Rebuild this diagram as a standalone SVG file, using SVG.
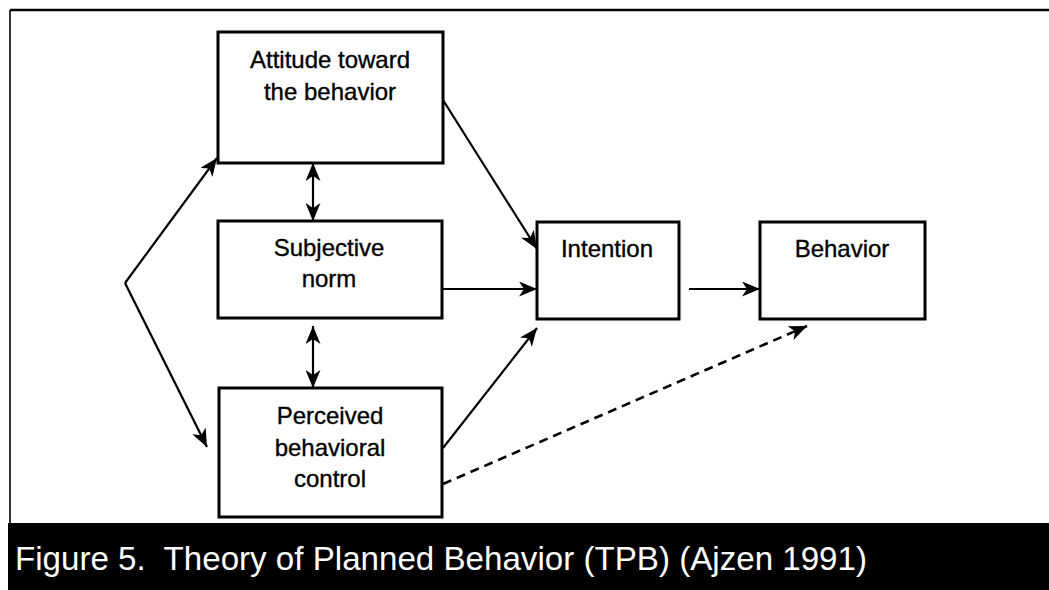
<svg xmlns="http://www.w3.org/2000/svg" width="1049" height="590" viewBox="0 0 1049 590">
  <style>
    .box { fill: #fff; stroke: #000; stroke-width: 3; }
    .lbl { font-family: "Liberation Sans", Arial, sans-serif; font-size: 24px; fill: #000; stroke: #000; stroke-width: 0.35; text-anchor: middle; }
    .edge { stroke: #000; stroke-width: 2.2; fill: none; }
    .dash { stroke-dasharray: 9 6; stroke-width: 2.6; }
    .cap { font-family: "Liberation Sans", Arial, sans-serif; font-size: 33px; fill: #fff; white-space: pre; }
  </style>
  <defs>
    <marker id="ah" viewBox="0 0 18 15" refX="18" refY="7.5" markerWidth="18" markerHeight="15" markerUnits="userSpaceOnUse" orient="auto-start-reverse">
      <path d="M0,0 L18,7.5 L0,15 L5,7.5 Z" fill="#000"/>
    </marker>
  </defs>

  <rect x="0" y="0" width="1049" height="590" fill="#fff"/>

  <!-- outer frame -->
  <g id="frame">
    <line x1="10" y1="10" x2="1049" y2="10" stroke="#000" stroke-width="2.5"/>
    <line x1="10" y1="10" x2="10" y2="523" stroke="#000" stroke-width="1.6"/>
  </g>

  <!-- connectors -->
  <g id="connectors">
    <line class="edge" x1="125" y1="283" x2="217" y2="158" marker-end="url(#ah)"/>
    <line class="edge" x1="125" y1="283" x2="207" y2="447" marker-end="url(#ah)"/>
    <line class="edge" x1="313" y1="163" x2="313" y2="221" marker-start="url(#ah)" marker-end="url(#ah)"/>
    <line class="edge" x1="313" y1="326" x2="313" y2="388" marker-start="url(#ah)" marker-end="url(#ah)"/>
    <line class="edge" x1="443" y1="100" x2="537" y2="249" marker-end="url(#ah)"/>
    <line class="edge" x1="442" y1="289" x2="537" y2="289" marker-end="url(#ah)"/>
    <line class="edge" x1="443" y1="448" x2="537" y2="328" marker-end="url(#ah)"/>
    <line class="edge" x1="689" y1="289" x2="760" y2="289" marker-end="url(#ah)"/>
    <line class="edge dash" x1="443" y1="484" x2="807" y2="326" marker-end="url(#ah)"/>
  </g>

  <g id="attitude">
    <rect class="box" x="218" y="32" width="225" height="131"/>
    <text class="lbl" x="330" y="68">Attitude toward</text>
    <text class="lbl" x="330" y="100">the behavior</text>
  </g>

  <g id="subjective-norm">
    <rect class="box" x="218" y="221" width="224" height="97"/>
    <text class="lbl" x="329" y="256">Subjective</text>
    <text class="lbl" x="329" y="287">norm</text>
  </g>

  <g id="perceived-control">
    <rect class="box" x="219" y="388" width="223" height="129"/>
    <text class="lbl" x="330" y="424">Perceived</text>
    <text class="lbl" x="330" y="456">behavioral</text>
    <text class="lbl" x="330" y="487">control</text>
  </g>

  <g id="intention">
    <rect class="box" x="537" y="222" width="142" height="97"/>
    <text class="lbl" x="607" y="257">Intention</text>
  </g>

  <g id="behavior">
    <rect class="box" x="760" y="222" width="165" height="97"/>
    <text class="lbl" x="842" y="257">Behavior</text>
  </g>

  <!-- caption bar -->
  <g id="caption">
    <rect x="8" y="523" width="1041" height="67" fill="#000"/>
    <text class="cap" x="15" y="570" textLength="852" lengthAdjust="spacingAndGlyphs" xml:space="preserve">Figure 5.  Theory of Planned Behavior (TPB) (Ajzen 1991)</text>
  </g>
</svg>
